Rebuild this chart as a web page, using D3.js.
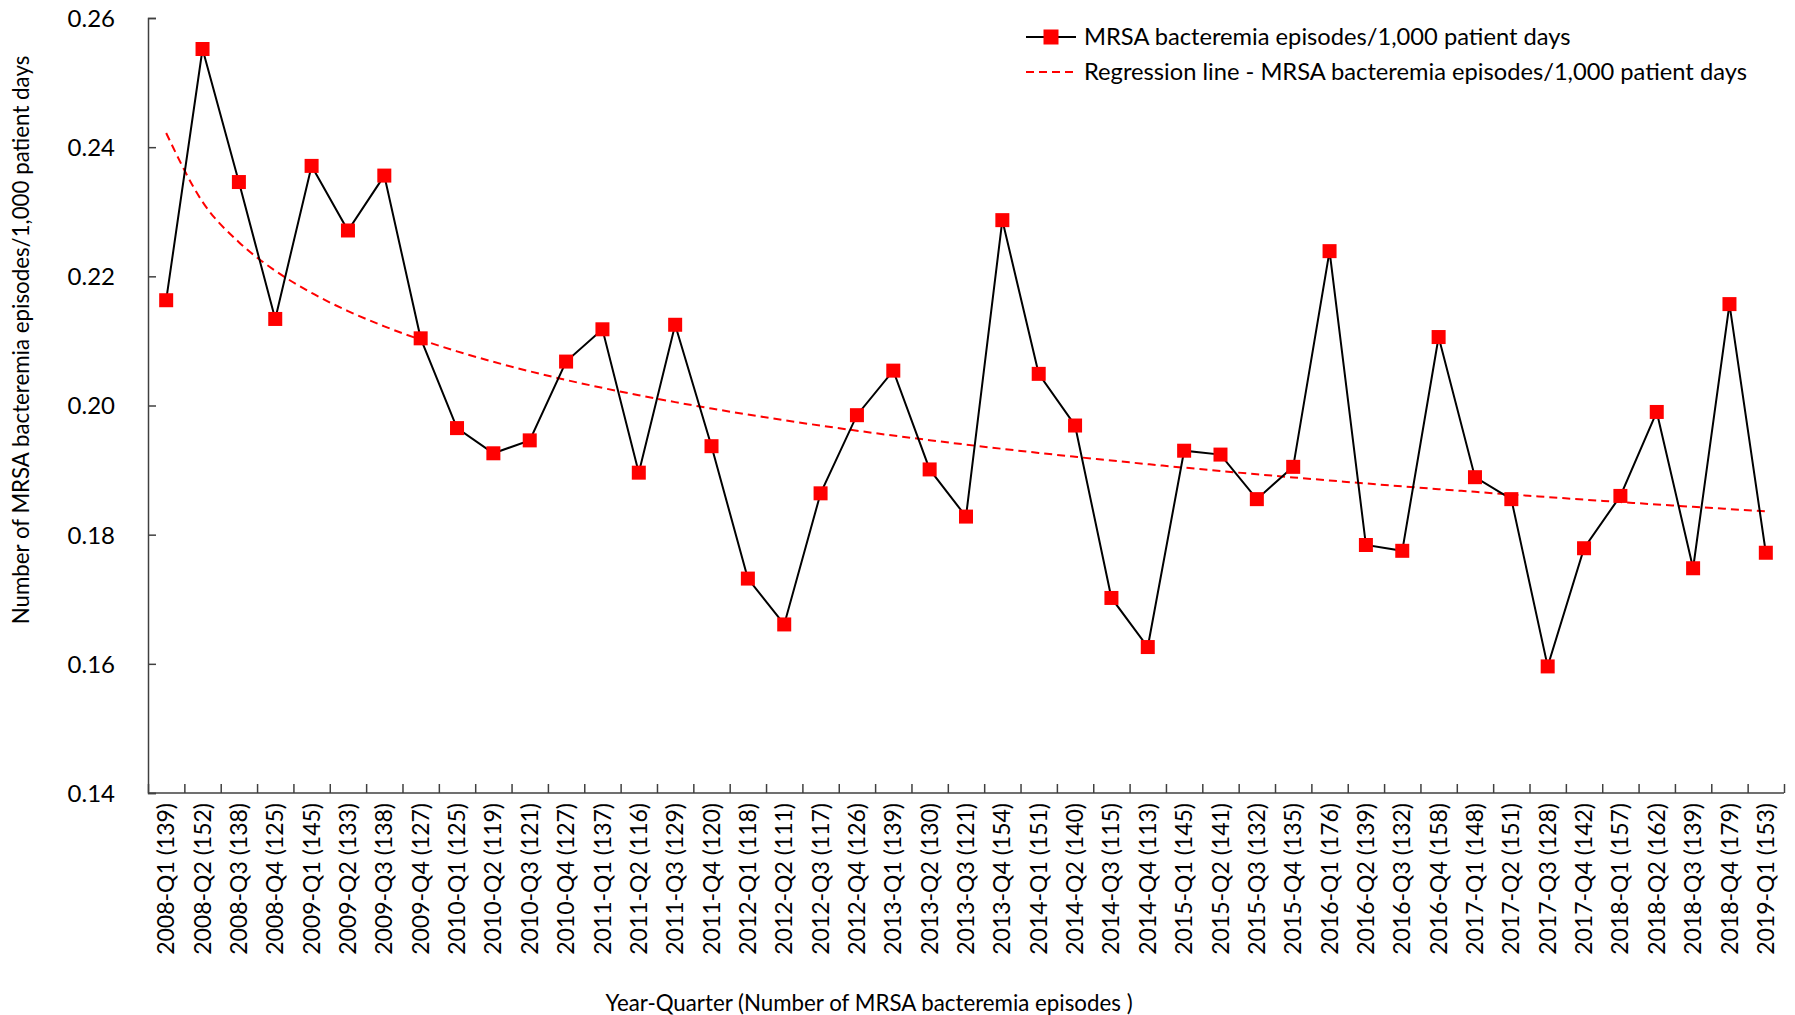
<!DOCTYPE html>
<html>
<head>
<meta charset="utf-8">
<script src="https://cdn.jsdelivr.net/npm/d3@7"></script>
<style>
  body { margin: 0; background: #fff; }
  .axis path, .axis line { stroke: #404040; stroke-width: 1.5px; }
  text { font-family: Lato, "Noto Sans", sans-serif; fill: #000; }
</style>
</head>
<body>
<div id="chart"></div>
<script>
// quarters and number of episodes
const quarters = ["2008-Q1","2008-Q2","2008-Q3","2008-Q4","2009-Q1","2009-Q2","2009-Q3","2009-Q4",
  "2010-Q1","2010-Q2","2010-Q3","2010-Q4","2011-Q1","2011-Q2","2011-Q3","2011-Q4",
  "2012-Q1","2012-Q2","2012-Q3","2012-Q4","2013-Q1","2013-Q2","2013-Q3","2013-Q4",
  "2014-Q1","2014-Q2","2014-Q3","2014-Q4","2015-Q1","2015-Q2","2015-Q3","2015-Q4",
  "2016-Q1","2016-Q2","2016-Q3","2016-Q4","2017-Q1","2017-Q2","2017-Q3","2017-Q4",
  "2018-Q1","2018-Q2","2018-Q3","2018-Q4","2019-Q1"];
const episodes = [139,152,138,125,145,133,138,127,125,119,121,127,137,116,129,120,
  118,111,117,126,139,130,121,154,151,140,115,113,145,141,132,135,
  176,139,132,158,148,151,128,142,157,162,139,179,153];
// MRSA bacteremia episodes / 1,000 patient days
const rates = [0.2163,0.2552,0.2346,0.2134,0.2371,0.2271,0.2356,0.2104,
  0.1965,0.1926,0.1946,0.2068,0.2118,0.1896,0.2125,0.1937,
  0.1732,0.1661,0.1864,0.1985,0.2054,0.1901,0.1828,0.2287,
  0.2049,0.1969,0.1702,0.1626,0.1930,0.1924,0.1855,0.1905,
  0.2239,0.1784,0.1775,0.2106,0.1889,0.1855,0.1596,0.1779,
  0.1860,0.1990,0.1748,0.2157,0.1772];
// logarithmic regression line: a + b*ln(n)
const regA = 0.2422;
const regB = -0.01539;
const yTicks = [0.14, 0.16, 0.18, 0.20, 0.22, 0.24, 0.26];

const width = 1795;
const height = 1015;
const margin = {top: 18, left: 148, right: 11, bottom: 222};

const labels = quarters.map((q, i) => `${q} (${episodes[i]})`);
const data = labels.map((l, i) => ({label: l, value: rates[i], n: i + 1}));

const svg = d3.select("#chart")
  .append("svg")
  .attr("width", width)
  .attr("height", height);

const xScale = d3.scaleBand()
  .domain(labels)
  .range([margin.left, width - margin.right])
  .padding(0);

// linear companion scale for the boundary ticks
const xEdge = d3.scaleLinear()
  .domain([0, labels.length])
  .range([margin.left, width - margin.right]);

const yScale = d3.scaleLinear()
  .domain([0.14, 0.26])
  .range([height - margin.bottom, margin.top]);

const xMid = d => xScale(d) + xScale.bandwidth() / 2;

// y axis
const yAxis = svg.append("g")
  .attr("class", "axis")
  .attr("transform", `translate(${margin.left},0)`)
  .call(d3.axisLeft(yScale).tickValues(yTicks).tickFormat(d3.format(".2f")).tickSize(-8).tickPadding(33));
yAxis.selectAll("text").style("font-size", "24px").attr("dy", "0.35em");

// x axis (ticks at category boundaries)
const xAxis = svg.append("g")
  .attr("class", "axis")
  .attr("transform", `translate(0,${height - margin.bottom})`)
  .call(d3.axisBottom(xEdge).tickValues(d3.range(0, labels.length + 1)).tickSize(-9).tickFormat(""));
xAxis.select(".domain").attr("d", `M${margin.left},0H${width - margin.right}`);

// x tick labels
svg.append("g")
  .selectAll("text")
  .data(labels)
  .enter()
  .append("text")
    .attr("transform", d => `translate(${xMid(d)},${height - margin.bottom + 10}) rotate(-90)`)
    .attr("text-anchor", "end")
    .attr("dy", "0.35em")
    .style("font-size", "23px")
    .text(d => d);

// regression line
const reg = d3.line()
  .x(d => xMid(d.label))
  .y(d => yScale(regA + regB * Math.log(d.n)))
  .curve(d3.curveMonotoneX);

svg.append("path")
  .datum(data)
  .attr("d", reg)
  .attr("fill", "none")
  .attr("stroke", "#ff0000")
  .attr("stroke-width", 2)
  .attr("stroke-dasharray", "8,5");

// observed series
const line = d3.line()
  .x(d => xMid(d.label))
  .y(d => yScale(d.value));

svg.append("path")
  .datum(data)
  .attr("d", line)
  .attr("fill", "none")
  .attr("stroke", "#000")
  .attr("stroke-width", 2);

const ms = 14;
svg.selectAll("rect.pt")
  .data(data)
  .enter()
  .append("rect")
    .attr("class", "pt")
    .attr("x", d => xMid(d.label) - ms / 2)
    .attr("y", d => yScale(d.value) - ms / 2)
    .attr("width", ms)
    .attr("height", ms)
    .attr("fill", "#ff0000");

// axis titles
svg.append("text")
  .attr("x", 869)
  .attr("y", 1003)
  .attr("text-anchor", "middle")
  .attr("dy", "0.35em")
  .style("font-size", "22.3px")
  .text("Year-Quarter (Number of MRSA bacteremia episodes )");

svg.append("text")
  .attr("transform", "translate(21,340) rotate(-90)")
  .attr("text-anchor", "middle")
  .attr("dy", "0.35em")
  .style("font-size", "22.3px")
  .text("Number of MRSA bacteremia episodes/1,000 patient days");

// legend
const legend = svg.append("g").attr("transform", "translate(1026,0)");

legend.append("line")
  .attr("x1", 0).attr("x2", 50).attr("y1", 37).attr("y2", 37)
  .attr("stroke", "#000").attr("stroke-width", 2);
legend.append("rect")
  .attr("x", 25 - 7.5).attr("y", 37 - 7.5).attr("width", 15).attr("height", 15)
  .attr("fill", "#ff0000");
legend.append("text")
  .attr("x", 58).attr("y", 37).attr("dy", "0.35em")
  .style("font-size", "23.7px")
  .text("MRSA bacteremia episodes/1,000 patient days");

legend.append("line")
  .attr("x1", 0).attr("x2", 50).attr("y1", 72).attr("y2", 72)
  .attr("stroke", "#ff0000").attr("stroke-width", 2).attr("stroke-dasharray", "8,5");
legend.append("text")
  .attr("x", 58).attr("y", 72).attr("dy", "0.35em")
  .style("font-size", "23.7px")
  .text("Regression line - MRSA bacteremia episodes/1,000 patient days");
</script>
</body>
</html>
